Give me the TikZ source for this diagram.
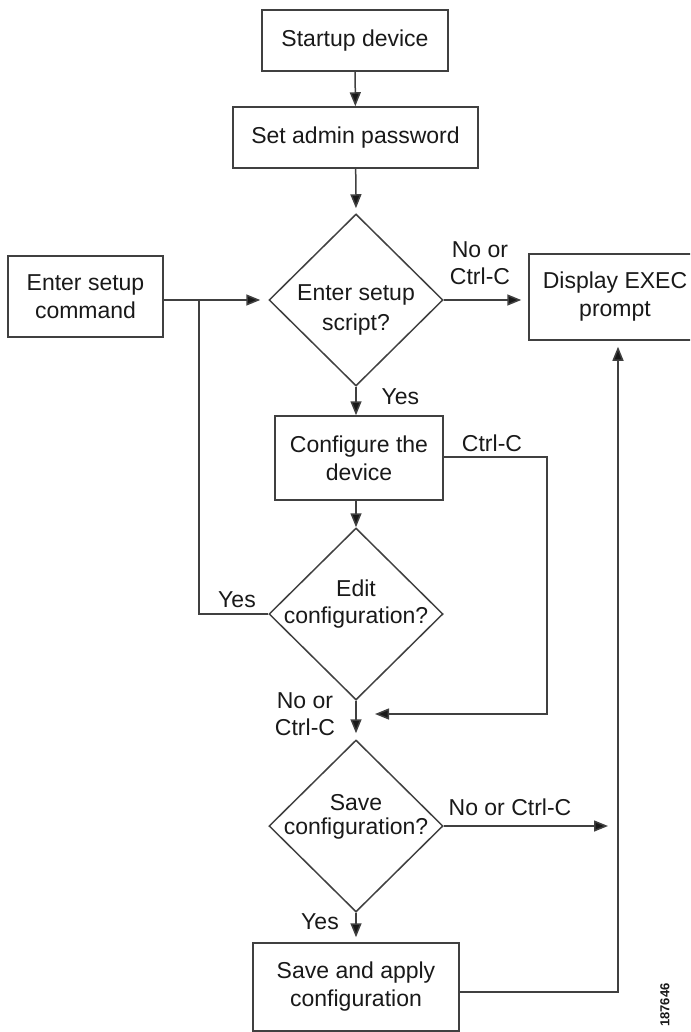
\documentclass[tikz,border=0pt]{standalone}
\usepackage{fontspec}
\setmainfont{Liberation Sans}
\usetikzlibrary{shapes.geometric,arrows.meta}
\begin{document}
\begin{tikzpicture}[x=1pt,y=-1pt,
  line/.style={draw=black!75, line width=1.5pt},
  arr/.style={line, -{Triangle[length=14pt,width=11pt,fill=black!90]}},
  box/.style={line, rectangle, inner sep=0pt, align=center, text=black!90,
    font=\fontsize{23}{28}\selectfont},
  dia/.style={line, diamond, inner sep=0pt, minimum width=174, minimum height=172},
  dtext/.style={align=center, text=black!90, font=\fontsize{23}{#1}\selectfont},
  lbl/.style={align=center, text=black!90, font=\fontsize{23}{27}\selectfont},
]
\useasboundingbox (0,0) rectangle (690,1032);
\clip (0,0) rectangle (690,1032);

% boxes
\node[box, minimum width=186, minimum height=61] (start) at (355,40.5) {Startup device};
\node[box, minimum width=245, minimum height=61] (admin) at (355.5,137.5) {Set admin password};
\node[box, minimum width=155, minimum height=81] (cmd) at (85.5,296.5) {Enter setup\\command};
\node[box, minimum width=172, minimum height=86] (exec) at (615,297) {Display EXEC\\prompt};
\node[box, minimum width=168, minimum height=84] (cfg) at (359,458) {Configure the\\device};
\node[box, minimum width=206, minimum height=88] (save) at (356,987) {Save and apply\\configuration};

% diamonds
\node[dia] (d1) at (356,300) {};
\node[dtext=30] (d1t) at (356,310) {Enter setup\\script?};
\node[dia] (d2) at (356,614) {};
\node[dtext=27] (d2t) at (356,604) {Edit\\configuration?};
\node[dia] (d3) at (356,826) {};
\node[dtext=24] (d3t) at (356,817) {Save\\configuration?};

% coordinates
\coordinate (yj) at (199,300);
\coordinate (yc) at (199,614);
\coordinate (cc) at (547,457);
\coordinate (ret) at (375,714);
\coordinate (nc) at (608,826);
\coordinate (r1) at (618,992);

% connectors
\draw[arr] (start) -- (admin);
\draw[arr, shorten >=5pt] (admin) -- (d1.north);
\draw[arr, shorten >=8pt] (cmd.east |- d1.west) -- (d1.west);
\draw[arr, shorten >=7pt] (d1.east) -- (exec.west |- d1.east);
\draw[arr] (d1.south) -- (d1.south |- cfg.north);
\draw[arr] (d1.south |- cfg.south) -- (d2.north);
\draw[line] (d2.west) -- (yc) -- (yj);
\draw[arr] (cfg.east |- cc) -- (cc) -- (cc |- ret) -- (ret);
\draw[arr, shorten >=6pt] (d2.south) -- (d3.north);
\draw[arr] (d3.east) -- (nc);
\draw[arr, shorten >=5pt] (d3.south) -- (save.north);
\draw[arr, shorten >=6pt] (save.east |- r1) -- (r1) -- (r1 |- exec.south);

% labels
\node[lbl] (l1) at (480,263) {No or\\Ctrl-C};
\node[lbl, anchor=west] (l2) at (378,397) {Yes};
\node[lbl] (l3) at (492,443) {Ctrl-C};
\node[lbl] (l4) at (237,600) {Yes};
\node[lbl] (l5) at (305,714) {No or\\Ctrl-C};
\node[lbl] (l6) at (510,807) {No or Ctrl-C};
\node[lbl] (l7) at (320,922) {Yes};
\node[rotate=90, text=black!90, font=\fontsize{13}{14}\selectfont\bfseries] (id) at (665,1005) {187646};
\end{tikzpicture}
\end{document}
